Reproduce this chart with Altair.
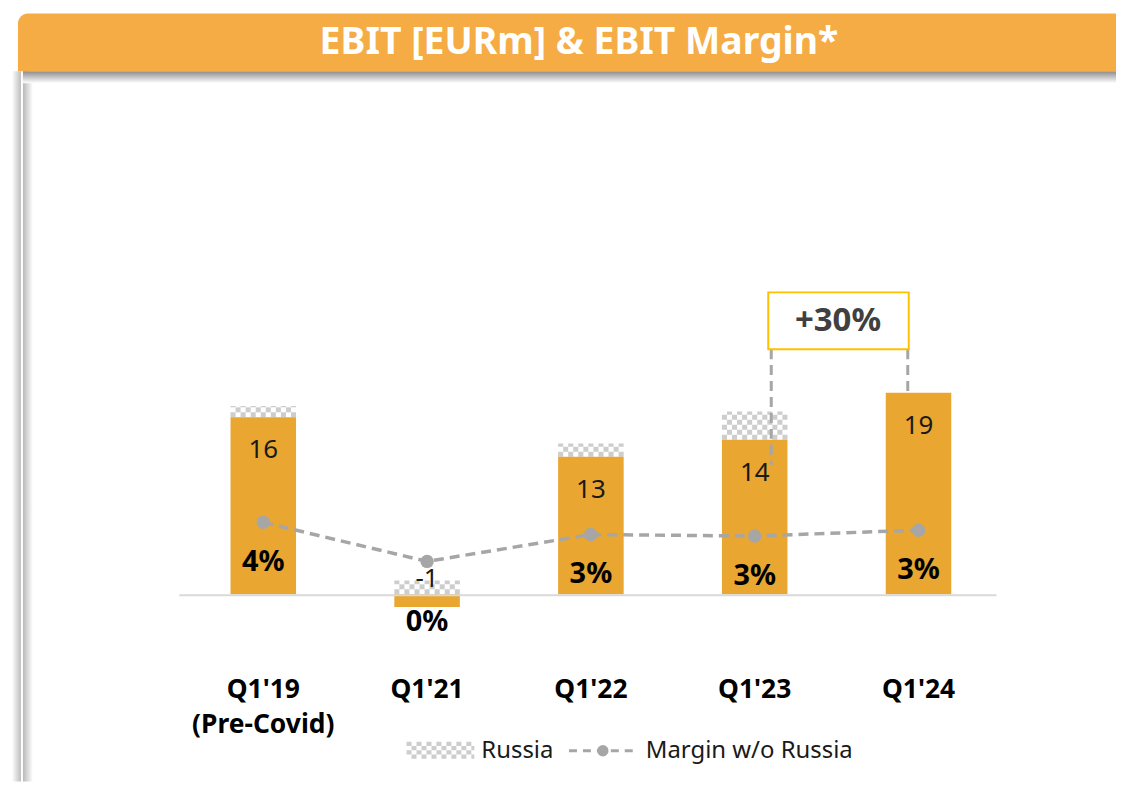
import altair as alt
import pandas as pd

# ---- data ----
quarters = ["Q1'19", "Q1'21", "Q1'22", "Q1'23", "Q1'24"]
quarter_labels = ["Q1'19\n(Pre-Covid)", "Q1'21", "Q1'22", "Q1'23", "Q1'24"]
ebit = [16.6, -1.2, 12.9, 14.5, 18.9]          # EBIT w/o Russia (bar height)
russia = [1.05, 1.3, 1.25, 2.65, 0.0]          # Russia contribution (hatched)
ebit_labels = ["16", "-1", "13", "14", "19"]
margin = [4.0, 0.0, 2.75, 2.6, 3.2]            # EBIT margin w/o Russia (%)
margin_labels = ["4%", "0%", "3%", "3%", "3%"]

W, H = 1112, 775
FONT = "Noto Sans"
BAR = "#E9A630"
ORANGE = "#F5AC45"
GREY = "#A6A6A6"
HATCH = "#CDCDCD"
NCOL = 13

df = pd.DataFrame({
    "q": quarters, "qlab": quarter_labels, "ebit": ebit, "russia": russia,
    "elab": ebit_labels, "margin": margin, "mlab": margin_labels,
})
df["r0"] = df["ebit"].clip(lower=0)
df["r1"] = df["r0"] + df["russia"]
df["zero"] = 0.0

base_y = 587.0   # plot-pixel position of zero EBIT
k_y = 10.7       # px per EURm
base_m = 554.0   # plot-pixel position of 0% margin
k_m = 9.8        # px per %

x_scale = alt.Scale(domain=quarters, range=[174, 996], paddingInner=0.6, paddingOuter=0.3)
y_scale = alt.Scale(domain=[-(H - base_y) / k_y, base_y / k_y], nice=False, zero=False)
m_scale = alt.Scale(domain=[-(H - base_m) / k_m, base_m / k_m], nice=False, zero=False)

X = alt.X("q:N", scale=x_scale, axis=None)
data = alt.Chart(df)
one = alt.Chart(pd.DataFrame({"a": [0]}))


def grad(c0, c1, vertical=True):
    return alt.Gradient(
        gradient="linear",
        stops=[alt.GradientStop(color=c0, offset=0), alt.GradientStop(color=c1, offset=1)],
        x1=0, y1=0, x2=0 if vertical else 1, y2=1 if vertical else 0,
    )


# ---- frame decorations ----
outer_shadow = one.mark_rect(fill=grad("#ffffff", "#bdbdbd", vertical=False)).encode(
    x=alt.value(4), x2=alt.value(13), y=alt.value(62), y2=alt.value(H))
inner_shadow = one.mark_rect(fill=grad("#b8b8b8", "#ffffff", vertical=False)).encode(
    x=alt.value(15), x2=alt.value(25), y=alt.value(62), y2=alt.value(H))
top_shadow = one.mark_rect(fill=grad("#8a8a8a", "#ffffff")).encode(
    x=alt.value(15), x2=alt.value(W), y=alt.value(62), y2=alt.value(74))
banner = one.mark_rect(fill=ORANGE, cornerRadiusTopLeft=10).encode(
    x=alt.value(10), x2=alt.value(W + 10), y=alt.value(4), y2=alt.value(62))
title = one.mark_text(text="EBIT [EURm] & EBIT Margin*", font=FONT, fontSize=37.5,
                      fontWeight="bold", color="white", baseline="middle").encode(
    x=alt.value(573), y=alt.value(34))

# ---- baseline ----
baseline = one.mark_rule(color="#D9D9D9", strokeWidth=2).encode(
    x=alt.value(172), x2=alt.value(992), y=alt.value(base_y + 1))

# ---- bars ----
bars = data.mark_bar(color=BAR).encode(
    x=X, y=alt.Y("ebit:Q", scale=y_scale, axis=None), y2=alt.Y2("zero:Q"))

# Russia: checkerboard hatch drawn as dashed vertical columns
hatch_base = data.transform_filter("datum.russia > 0").transform_calculate(
    col=f"sequence(0, {NCOL})").transform_flatten(["col"])
XO = alt.XOffset("col:O", scale=alt.Scale(domain=list(range(NCOL)), paddingInner=0, paddingOuter=0))


def hatch_layer(parity, offset):
    return hatch_base.transform_filter(f"datum.col % 2 == {parity}").mark_rule(
        color=HATCH, strokeWidth=65.8 / NCOL, strokeDash=[5, 5], strokeDashOffset=offset,
        strokeCap="butt").encode(
        x=X, xOffset=XO, y=alt.Y("r0:Q", scale=y_scale, axis=None), y2="r1:Q")


rus_even = hatch_layer(0, 0)
rus_odd = hatch_layer(1, 5)

val_pos = data.transform_filter("datum.ebit >= 0").mark_text(
    font=FONT, fontSize=26, color="#1A1A1A", baseline="middle", dy=33).encode(
    x=X, y=alt.Y("ebit:Q", scale=y_scale, axis=None), text="elab:N")
val_neg = data.transform_filter("datum.ebit < 0").mark_text(
    font=FONT, fontSize=26, color="#1A1A1A", baseline="middle", dy=-15).encode(
    x=X, y=alt.Y("zero:Q", scale=y_scale, axis=None), text="elab:N")

# ---- margin line ----
mline = data.mark_line(color=GREY, strokeDash=[10, 6], strokeWidth=3.5).encode(
    x=X, y=alt.Y("margin:Q", scale=m_scale, axis=None))
mpts = data.mark_circle(color=GREY, size=180, opacity=1).encode(
    x=X, y=alt.Y("margin:Q", scale=m_scale, axis=None))
mlab_pos = data.transform_filter("datum.ebit >= 0").mark_text(
    font=FONT, fontSize=29, fontWeight="bold", color="black", baseline="middle", dy=40).encode(
    x=X, y=alt.Y("margin:Q", scale=m_scale, axis=None), text="mlab:N")
mlab_neg = data.transform_filter("datum.ebit < 0").mark_text(
    font=FONT, fontSize=29, fontWeight="bold", color="black", baseline="middle", dy=61).encode(
    x=X, y=alt.Y("margin:Q", scale=m_scale, axis=None), text="mlab:N")

# ---- category labels ----
xlabels = data.mark_text(font=FONT, fontSize=26.5, fontWeight="bold", color="black",
                         baseline="alphabetic", lineBreak="\n", lineHeight=35).encode(
    x=X, y=alt.value(691), text="qlab:N")

# ---- +30% annotation ----
ann_box = one.mark_rect(fill="white", stroke="#FFC000", strokeWidth=2).encode(
    x=alt.value(763), x2=alt.value(904), y=alt.value(284), y2=alt.value(341))
ann_txt = one.mark_text(text="+30%", font=FONT, fontSize=33, fontWeight="bold",
                        color="#404040", baseline="middle").encode(
    x=alt.value(833), y=alt.value(313))
ann_l = one.mark_rule(color=GREY, strokeWidth=3, strokeDash=[10, 6]).encode(
    x=alt.value(766), y=alt.value(341), y2=alt.value(457))
ann_r = one.mark_rule(color=GREY, strokeWidth=3, strokeDash=[10, 6]).encode(
    x=alt.value(903), y=alt.value(341), y2=alt.value(384))

# ---- legend ----
leg_rows = []
for i in range(4):
    leg_rows.append(one.mark_rule(color=HATCH, strokeWidth=4.25, strokeDash=[5, 5],
                                  strokeDashOffset=5 * (i % 2), strokeCap="butt").encode(
        x=alt.value(400), x2=alt.value(468), y=alt.value(737.1 + 4.25 * i)))
leg_t1 = one.mark_text(text="Russia", font=FONT, fontSize=24, color="#1A1A1A",
                       align="left", baseline="middle").encode(x=alt.value(475), y=alt.value(744))
leg_line = one.mark_rule(color=GREY, strokeWidth=3, strokeDash=[8, 6]).encode(
    x=alt.value(563), x2=alt.value(632), y=alt.value(744))
leg_dot = one.mark_circle(color=GREY, size=130, opacity=1).encode(
    x=alt.value(597), y=alt.value(744))
leg_t2 = one.mark_text(text="Margin w/o Russia", font=FONT, fontSize=24, color="#1A1A1A",
                       align="left", baseline="middle").encode(x=alt.value(640), y=alt.value(744))

chart = alt.layer(
    outer_shadow, inner_shadow, top_shadow, banner, title,
    rus_even, rus_odd, bars, baseline, val_pos, val_neg,
    mline, mpts, mlab_pos, mlab_neg, xlabels,
    ann_l, ann_r, ann_box, ann_txt,
    *leg_rows, leg_t1, leg_line, leg_dot, leg_t2,
).resolve_scale(y="independent").properties(
    width=W, height=H, autosize="none", padding=0
).configure_view(stroke=None)

chart.save("out.html", embed_options={"renderer": "svg", "actions": False})
